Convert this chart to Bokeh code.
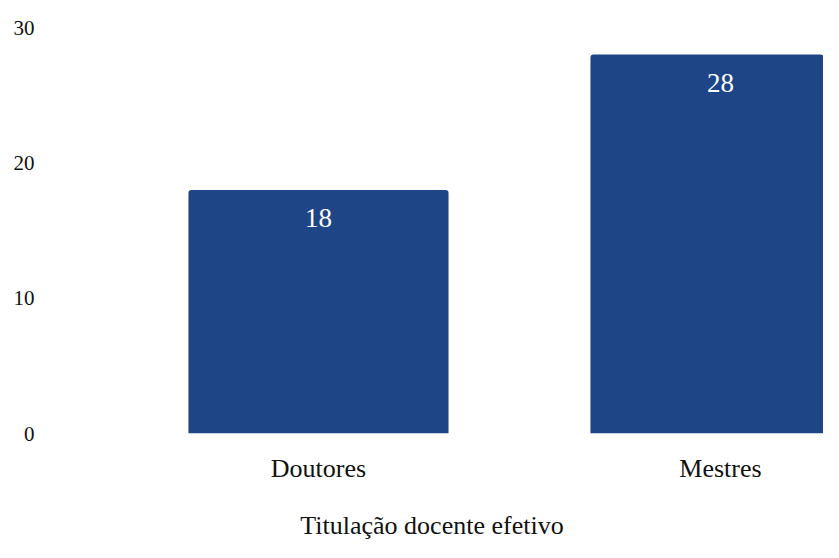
from bokeh.plotting import figure
from bokeh.models import ColumnDataSource, Range1d, FixedTicker
from bokeh.core.properties import value
from bokeh.embed import file_html
from bokeh.resources import INLINE

categories = ["Doutores", "Mestres"]
counts = [18, 28]
y_ticks = [0, 10, 20, 30]
x_title = "Titulação docente efetivo"

FONT = "Liberation Serif"
BAR = "#1E4687"

idx = list(range(len(categories)))
src = ColumnDataSource(dict(x=idx, top=counts, label=[str(c) for c in counts]))

p = figure(width=823, height=542, output_backend="svg", toolbar_location=None,
           x_range=Range1d(-0.6915, 1.2562), y_range=Range1d(0, 30),
           min_border_left=40, min_border_right=0, min_border_top=27,
           min_border_bottom=0)
p.outline_line_color = None
p.grid.visible = False

p.vbar(x="x", top="top", width=0.647, source=src, fill_color=BAR, line_color=None,
       border_radius=(3, 3, 0, 0))
p.text(x="x", y="top", text="label", source=src, text_color="white",
       text_font=value(FONT), text_font_size="27px", text_align="center",
       text_baseline="middle", y_offset=28)

xa = p.xaxis[0]
xa.ticker = FixedTicker(ticks=idx)
xa.major_label_overrides = {i: c for i, c in zip(idx, categories)}
xa.axis_line_color = None
xa.major_tick_line_color = None
xa.minor_tick_line_color = None
xa.major_tick_out = 0
xa.major_tick_in = 0
xa.major_label_standoff = 20
xa.major_label_text_font = FONT
xa.major_label_text_font_size = "26px"
xa.major_label_text_color = "#111111"
xa.axis_label = x_title
xa.axis_label_text_font = FONT
xa.axis_label_text_font_size = "26px"
xa.axis_label_text_font_style = "normal"
xa.axis_label_text_color = "#111111"
xa.axis_label_standoff = 25

ya = p.yaxis[0]
ya.ticker = FixedTicker(ticks=y_ticks)
ya.axis_line_color = None
ya.major_tick_line_color = None
ya.minor_tick_line_color = None
ya.major_tick_out = 0
ya.major_tick_in = 0
ya.major_label_standoff = 6
ya.major_label_text_font = FONT
ya.major_label_text_font_size = "21px"
ya.major_label_text_color = "#111111"

open("out.html", "w").write(file_html(p, INLINE))
